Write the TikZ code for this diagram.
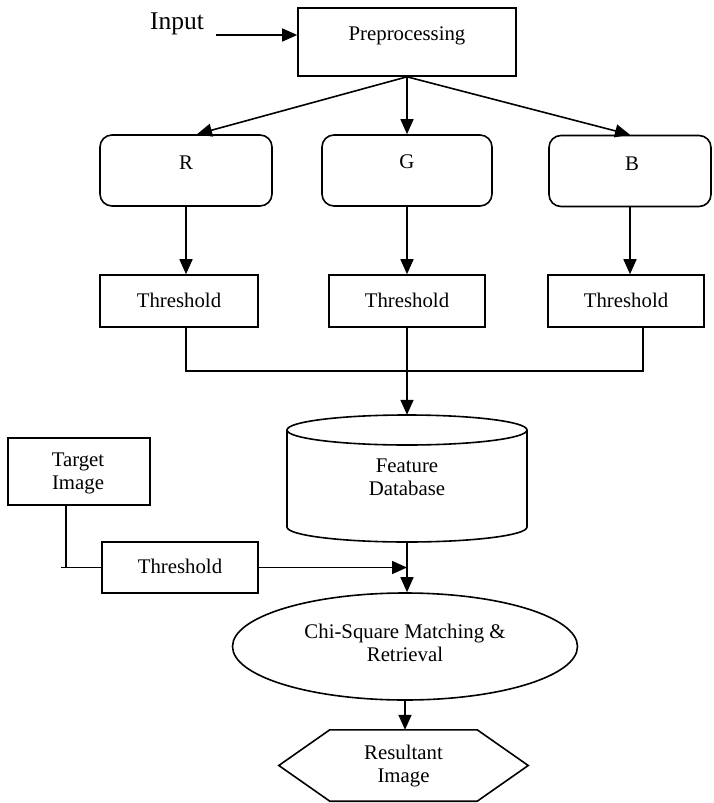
\documentclass[tikz,border=0pt]{standalone}
\usepackage{fontspec}
\setmainfont{Liberation Serif}
\usetikzlibrary{arrows.meta,shapes.geometric}
\begin{document}
\begin{tikzpicture}[x=1pt,y=-1pt,
  every node/.style={font=\fontsize{20.8}{23}\selectfont, inner sep=0pt, align=center},
  box/.style={draw, line width=1.6pt, rectangle},
  rbox/.style={draw, line width=1.6pt, rectangle, rounded corners=12pt},
  conn/.style={line width=1.6pt},
  arr/.style={conn, -{Triangle[length=15pt,width=13pt]}},
]
\useasboundingbox (0,0) rectangle (713,803);

% Input and preprocessing
\node[font=\fontsize{25.5}{28}\selectfont] (inp) at (177,24) {Input};
\node[box, minimum width=218pt, minimum height=68pt] (pre) at (407,42) {};
\node (pret) at (407,36) {Preprocessing};
\coordinate (inA) at (216,35);
\draw[arr] (inA) -- (inA -| pre.west);

% R G B boxes
\node[rbox, minimum width=172pt, minimum height=71pt] (R) at (186,170.5) {};
\node[rbox, minimum width=170pt, minimum height=71pt] (G) at (407,170.5) {};
\node[rbox, minimum width=162pt, minimum height=71pt] (B) at (630,171) {};
\node (Rt) at (186,163) {R};
\node (Gt) at (407,162) {G};
\node (Bt) at (632,164) {B};

\draw[arr] (pre.south) -- ([xshift=11pt]R.north);
\draw[arr] (pre.south) -- (G.north);
\draw[arr] (pre.south) -- (B.north);

% Threshold boxes
\node[box, minimum width=158pt, minimum height=52pt] (Rth) at (179,301) {};
\node[box, minimum width=156pt, minimum height=52pt] (Gth) at (407,301) {};
\node[box, minimum width=156pt, minimum height=52pt] (Bth) at (626,301) {};
\node (Rtht) at (179,300) {Threshold};
\node (Gtht) at (407,300) {Threshold};
\node (Btht) at (626,300) {Threshold};

\draw[arr] (R.south) -- (R.south |- Rth.north);
\draw[arr] (G.south) -- (Gth.north);
\draw[arr] (B.south) -- (B.south |- Bth.north);

% Bus to database
\coordinate (busL) at (186,371);
\coordinate (busR) at (643,371);
\draw[conn] (Rth.south -| busL) -- (busL) -- (busR) -- (busR |- Bth.south);

% Feature database (cylinder)
\node[minimum width=240pt, minimum height=127pt] (db) at (407,478.5) {};
\draw[conn] (407,430) ellipse [x radius=120pt, y radius=15pt];
\draw[conn] (287,430) -- (287,527) arc[start angle=180, end angle=360, x radius=120pt, y radius=15pt] -- (527,430);
\node (dbt) at (407,477) {Feature\\Database};
\draw[arr] (Gth.south) -- (db.north);

% Target image branch
\node[box, minimum width=142pt, minimum height=67pt] (tgt) at (79,471.5) {};
\node (tgtt) at (78,473.5) {Target\\Image};
\node[box, minimum width=156pt, minimum height=51pt] (th4) at (180,567.5) {};
\node (th4t) at (180,566) {Threshold};
\coordinate (tdown) at (66,567.5);
\coordinate (tk) at (61,567.5);
\draw[conn] (tgt.south -| tdown) -- (tdown);
\draw[conn] (tk) -- (th4.west);
\draw[arr] (th4.east) -- (th4.east -| db.south);

% Chi-square matching
\node[draw, ellipse, line width=1.6pt, minimum width=345pt, minimum height=107pt] (chi) at (405,646.5) {};
\node (chit) at (405,643) {Chi-Square Matching \&\\Retrieval};
\draw[arr] (db.south) -- (db.south |- chi.north);

% Resultant image hexagon
\node[minimum width=249pt, minimum height=71pt] (res) at (403.5,765.5) {};
\draw[conn] (res.west) -- ([xshift=51pt]res.north west) -- ([xshift=-51pt]res.north east) -- (res.east) -- ([xshift=-51pt]res.south east) -- ([xshift=51pt]res.south west) -- cycle;
\node (rest) at (403.5,766) {Resultant\\Image};
\draw[arr] (chi.south) -- (chi.south |- res.north);
\end{tikzpicture}
\end{document}
